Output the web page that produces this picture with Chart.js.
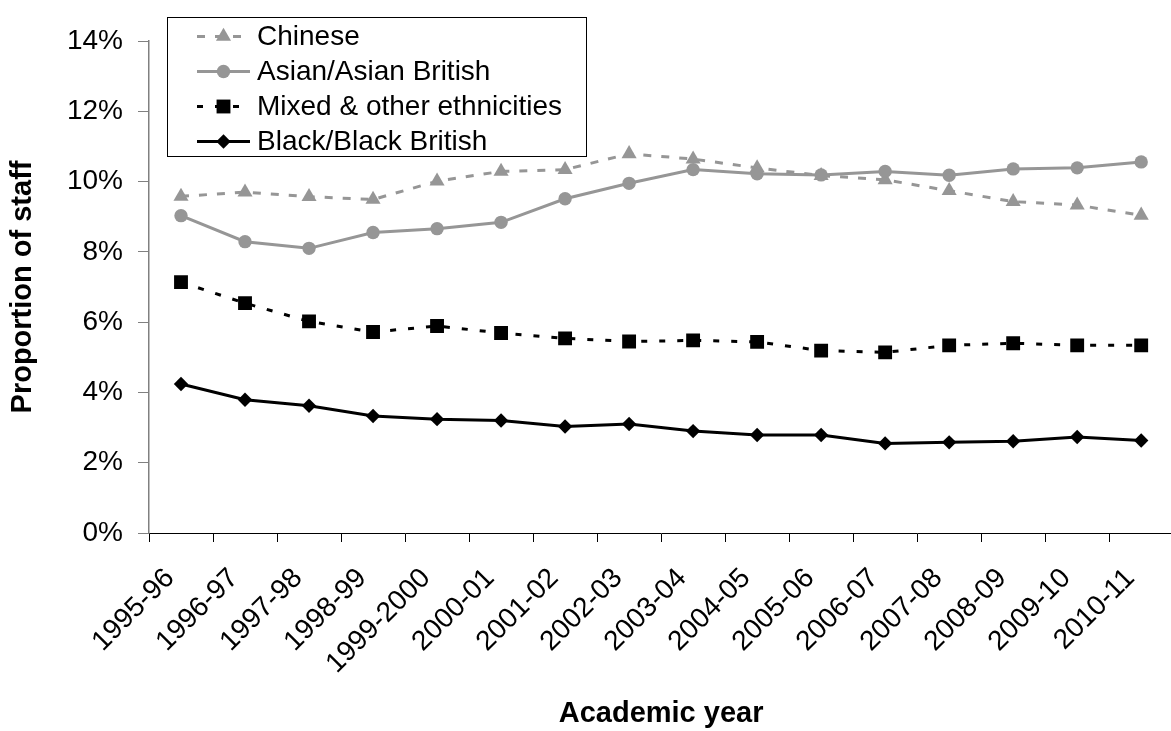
<!DOCTYPE html>
<html>
<head>
<meta charset="utf-8">
<script src="https://cdn.jsdelivr.net/npm/chart.js@4/dist/chart.umd.min.js"></script>
<style>
  html, body { margin: 0; padding: 0; background: #fff; overflow: hidden; }
  #wrap { width: 1183px; height: 731px; }
</style>
</head>
<body>
<div id="wrap"><canvas id="c" width="1183" height="731"></canvas></div>
<script>
// Academic years on the category axis
const years = ['1995-96', '1996-97', '1997-98', '1998-99', '1999-2000', '2000-01',
  '2001-02', '2002-03', '2003-04', '2004-05', '2005-06', '2006-07',
  '2007-08', '2008-09', '2009-10', '2010-11'];

// Proportion of staff (%) by ethnic group
const chinese = [9.58, 9.70, 9.57, 9.49, 10.01, 10.29, 10.34, 10.79,
  10.64, 10.39, 10.17, 10.05, 9.74, 9.43, 9.33, 9.04];
const asianBritish = [9.03, 8.29, 8.10, 8.55, 8.66, 8.84, 9.51, 9.95,
  10.34, 10.22, 10.19, 10.29, 10.18, 10.36, 10.39, 10.56];
const mixedOther = [7.14, 6.54, 6.02, 5.72, 5.89, 5.69, 5.54, 5.45,
  5.48, 5.44, 5.19, 5.14, 5.34, 5.40, 5.34, 5.34];
const blackBritish = [4.24, 3.79, 3.62, 3.33, 3.24, 3.20, 3.03, 3.10,
  2.90, 2.79, 2.79, 2.55, 2.58, 2.61, 2.73, 2.63];

const seriesNames = ['Chinese', 'Asian/Asian British', 'Mixed & other ethnicities', 'Black/Black British'];

// Value axis range
const yMin = 0, yMax = 14, yStep = 2;

const GREY = '#969696';
const FONT = "'Liberation Sans', Arial, Helvetica, sans-serif";

Chart.defaults.font.family = FONT;
Chart.defaults.font.size = 28;
Chart.defaults.color = '#000';

// Boxed legend drawn inside the plot: line sample with marker, then label
const boxedLegend = {
  id: 'boxedLegend',
  afterDraw(chart) {
    const ctx = chart.ctx;
    const box = { x: 167.5, y: 17.5, w: 419, h: 139 };
    ctx.save();
    ctx.fillStyle = '#fff';
    ctx.fillRect(box.x, box.y, box.w, box.h);
    ctx.strokeStyle = '#000';
    ctx.lineWidth = 1;
    ctx.strokeRect(box.x, box.y, box.w, box.h);
    chart.data.datasets.forEach((ds, i) => {
      const y = 36.5 + i * 35;
      ctx.strokeStyle = ds.borderColor;
      ctx.lineWidth = ds.borderWidth;
      ctx.setLineDash(ds.borderDash || []);
      ctx.beginPath();
      ctx.moveTo(197, y);
      ctx.lineTo(250, y);
      ctx.stroke();
      ctx.setLineDash([]);
      ctx.fillStyle = ds.pointBackgroundColor;
      ctx.strokeStyle = ds.pointBorderColor;
      Chart.helpers.drawPoint(ctx, {
        pointStyle: ds.pointStyle,
        radius: ds.pointRadius,
        rotation: 0,
        borderWidth: 0
      }, 223.5, y);
      ctx.fillStyle = '#000';
      ctx.font = '28px ' + FONT;
      ctx.textAlign = 'left';
      ctx.textBaseline = 'middle';
      ctx.fillText(ds.label, 257, y + 1);
    });
    ctx.restore();
  }
};

function series(label, data, color, dash, style, radius, order) {
  return {
    label, data, order,
    borderColor: color,
    borderWidth: 3,
    borderDash: dash,
    pointStyle: style,
    pointRadius: radius,
    pointHoverRadius: radius,
    pointBackgroundColor: color,
    pointBorderColor: color,
    pointBorderWidth: 0,
    tension: 0,
    fill: false
  };
}

new Chart(document.getElementById('c'), {
  type: 'line',
  data: {
    labels: years,
    datasets: [
      series(seriesNames[0], chinese, GREY, [8, 10], 'triangle', 8.7, 4),
      series(seriesNames[1], asianBritish, GREY, [], 'circle', 6.7, 3),
      series(seriesNames[2], mixedOther, '#000', [6, 12], 'rect', 9.8, 2),
      series(seriesNames[3], blackBritish, '#000', [], 'rectRot', 7.2, 1)
    ]
  },
  options: {
    responsive: false,
    animation: false,
    events: [],
    layout: { padding: { top: 41, left: 0, right: 0, bottom: 0 } },
    plugins: {
      legend: { display: false },
      tooltip: { enabled: false }
    },
    scales: {
      x: {
        type: 'category',
        offset: true,
        grid: {
          offset: true,
          drawOnChartArea: false,
          drawTicks: true,
          tickLength: 9,
          color: '#000',
          lineWidth: 1
        },
        border: { display: true, color: '#000', width: 1 },
        ticks: {
          autoSkip: false,
          maxRotation: 45,
          minRotation: 45,
          padding: 20,
          labelOffset: -11,
          color: '#000',
          font: { size: 28 }
        },
        title: {
          display: true,
          text: 'Academic year',
          color: '#000',
          font: { size: 29, weight: 'bold' },
          padding: { top: 0, bottom: 0 }
        },
        afterFit(scale) {
          scale.height = 198;
          scale.paddingLeft = 0;
          scale.paddingRight = 0;
        }
      },
      y: {
        min: yMin,
        max: yMax,
        ticks: {
          stepSize: yStep,
          padding: 15,
          color: '#000',
          font: { size: 28 },
          callback: (v) => v + '%'
        },
        grid: {
          drawOnChartArea: false,
          drawTicks: true,
          tickLength: 11,
          color: '#808080',
          lineWidth: 1
        },
        border: { display: true, color: '#808080', width: 1.5 },
        title: {
          display: true,
          text: 'Proportion of staff',
          color: '#000',
          font: { size: 29, weight: 'bold' },
          padding: { top: 6, bottom: 0 }
        },
        afterFit(scale) {
          scale.width = 149;
        }
      }
    }
  },
  plugins: [boxedLegend]
});
</script>
</body>
</html>
